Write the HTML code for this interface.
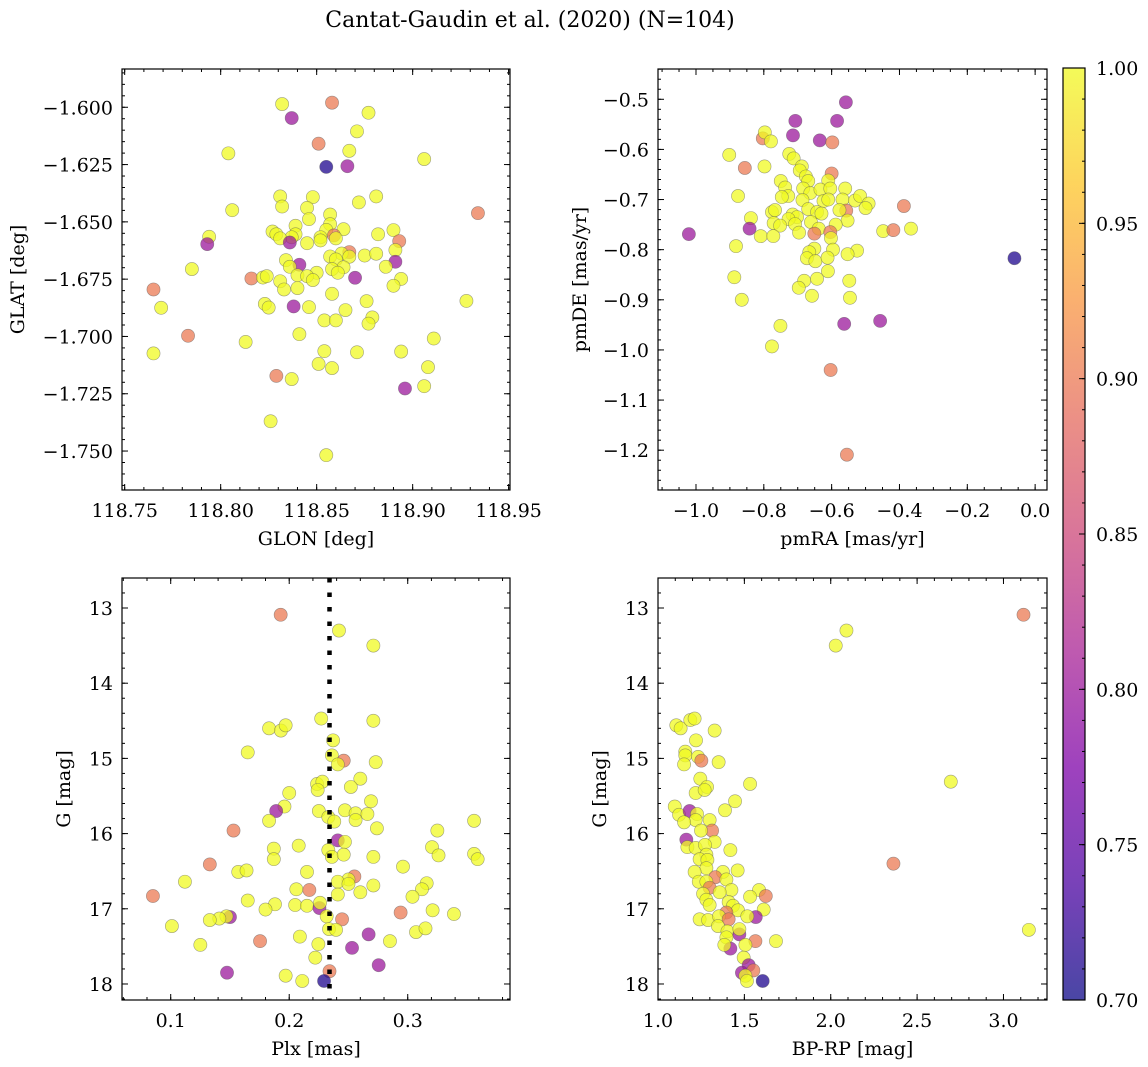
<!DOCTYPE html>
<html><head><meta charset="utf-8">
<style>
html,body{margin:0;padding:0;background:#fff;}
svg{display:block;font-family:"DejaVu Serif","Liberation Serif",serif;}
</style></head>
<body>
<svg id="fig" width="1148" height="1067" viewBox="0 0 1148 1067" xmlns="http://www.w3.org/2000/svg">
<defs>
<linearGradient id="plasmaGrad" x1="0" y1="1" x2="0" y2="0">
<stop offset="0" stop-color="#0d0887"/><stop offset="0.125" stop-color="#4c02a1"/><stop offset="0.25" stop-color="#7e03a8"/><stop offset="0.375" stop-color="#a92395"/><stop offset="0.5" stop-color="#cc4778"/><stop offset="0.625" stop-color="#e56b5d"/><stop offset="0.75" stop-color="#f89540"/><stop offset="0.875" stop-color="#fdc527"/><stop offset="1" stop-color="#f0f921"/>
</linearGradient>
</defs>
<text x="530" y="27" font-size="22" text-anchor="middle">Cantat-Gaudin et al. (2020) (N=104)</text>
</svg>
<script>
// ---------- Panel 1: GLON / GLAT ----------
const p1Glon=[118.832,118.858,118.837,118.877,118.871,118.851,118.867,118.804,118.906,118.855,
118.866,118.831,118.848,118.881,118.832,118.872,118.806,118.845,118.934,118.857,
118.846,118.839,118.857,118.827,118.829,118.839,118.837,118.831,118.864,118.855,
118.852,118.859,118.860,118.882,118.890,118.836,118.845,118.794,118.793,118.852,
118.893,118.891,118.867,118.863,118.857,118.867,118.875,118.881,118.860,118.834,
118.841,118.891,118.836,118.886,118.864,118.858,118.861,118.850,118.785,118.840,
118.845,118.848,118.816,118.822,118.824,118.870,118.894,118.831,118.890,118.840,
118.833,118.765,118.858,118.928,118.876,118.769,118.823,118.825,118.838,118.846,
118.865,118.854,118.860,118.879,118.877,118.841,118.783,118.911,118.813,118.854,
118.871,118.894,118.765,118.851,118.858,118.908,118.829,118.837,118.896,118.906,
118.826,118.855];
const p1Glat=[-1.5986,-1.5980,-1.6047,-1.6024,-1.6105,-1.6159,-1.6190,-1.6201,-1.6226,-1.6260,
-1.6257,-1.6389,-1.6392,-1.6389,-1.6433,-1.6415,-1.6449,-1.6439,-1.6462,-1.6468,
-1.6488,-1.6517,-1.6510,-1.6542,-1.6554,-1.6554,-1.6567,-1.6572,-1.6532,-1.6535,
-1.6567,-1.6559,-1.6572,-1.6554,-1.6536,-1.6590,-1.6593,-1.6565,-1.6597,-1.6581,
-1.6584,-1.6623,-1.6632,-1.6638,-1.6651,-1.6652,-1.6647,-1.6639,-1.6664,-1.6667,
-1.6687,-1.6674,-1.6696,-1.6696,-1.6698,-1.6706,-1.6722,-1.6722,-1.6706,-1.6733,
-1.6737,-1.6754,-1.6747,-1.6743,-1.6737,-1.6744,-1.6749,-1.6759,-1.6779,-1.6789,
-1.6795,-1.6795,-1.6814,-1.6845,-1.6846,-1.6875,-1.6858,-1.6874,-1.6869,-1.6872,
-1.6885,-1.6930,-1.6930,-1.6917,-1.6944,-1.6990,-1.6997,-1.7009,-1.7024,-1.7064,
-1.7069,-1.7066,-1.7074,-1.7120,-1.7138,-1.7134,-1.7172,-1.7186,-1.7227,-1.7217,
-1.7370,-1.7518];
const p1Prob=[1,.9,.8,1,1,.9,1,1,1,.71, .8,1,1,1,1,1,1,1,.9,1, 1,1,1,1,1,1,1,1,1,1, 1,.9,1,1,1,.8,1,1,.8,1,
.9,1,.9,1,1,1,1,1,1,1, .8,.8,1,1,1,1,1,1,1,1, 1,1,.9,1,1,.8,1,1,1,1, 1,.9,1,1,1,1,1,1,.8,1,
1,1,1,1,1,1,.9,1,1,1, 1,1,1,1,1,1,.9,1,.8,1, 1,1];
const p1XTicks=[118.75,118.80,118.85,118.90,118.95];
const p1XTickLabels=["118.75","118.80","118.85","118.90","118.95"];
const p1YTicks=[-1.600,-1.625,-1.650,-1.675,-1.700,-1.725,-1.750];
const p1YTickLabels=["−1.600","−1.625","−1.650","−1.675","−1.700","−1.725","−1.750"];

// ---------- Panel 2: pmRA / pmDE ----------
const p2PmRA=[-0.558,-0.707,-0.584,-0.714,-0.635,-0.598,-0.803,-0.797,-0.779,-0.902,
-0.856,-0.798,-0.725,-0.712,-0.688,-0.694,-0.676,-0.600,-0.750,-0.737,
-0.669,-0.610,-0.684,-0.663,-0.633,-0.604,-0.560,-0.728,-0.747,-0.876,
-0.686,-0.624,-0.610,-0.568,-0.531,-0.516,-0.491,-0.500,-0.387,-0.557,
-0.577,-0.669,-0.643,-0.630,-0.776,-0.767,-0.715,-0.702,-0.727,-0.838,
-0.553,-0.661,-0.771,-0.752,-0.708,-0.588,-0.638,-0.842,-1.021,-0.696,
-0.651,-0.604,-0.809,-0.772,-0.602,-0.448,-0.418,-0.366,-0.882,-0.651,
-0.666,-0.596,-0.525,-0.553,-0.673,-0.648,-0.612,-0.061,-0.887,-0.611,
-0.643,-0.681,-0.697,-0.548,-0.658,-0.865,-0.546,-0.563,-0.457,-0.751,
-0.776,-0.603,-0.555];
const p2PmDE=[-0.506,-0.543,-0.543,-0.572,-0.582,-0.586,-0.578,-0.566,-0.584,-0.611,
-0.637,-0.634,-0.609,-0.618,-0.634,-0.642,-0.654,-0.648,-0.663,-0.676,
-0.663,-0.662,-0.678,-0.687,-0.680,-0.678,-0.678,-0.693,-0.695,-0.693,
-0.701,-0.703,-0.700,-0.700,-0.702,-0.693,-0.708,-0.717,-0.713,-0.722,
-0.721,-0.719,-0.725,-0.728,-0.725,-0.721,-0.730,-0.735,-0.739,-0.737,
-0.742,-0.745,-0.747,-0.752,-0.749,-0.750,-0.758,-0.758,-0.769,-0.766,
-0.768,-0.765,-0.773,-0.773,-0.777,-0.763,-0.761,-0.758,-0.793,-0.798,
-0.805,-0.800,-0.802,-0.809,-0.817,-0.823,-0.816,-0.817,-0.855,-0.843,
-0.858,-0.862,-0.876,-0.862,-0.892,-0.900,-0.896,-0.948,-0.942,-0.952,
-0.993,-1.040,-1.209];
const p2Prob=[.8,.8,.8,.8,.8,.9,.9,1,1,1, .9,1,1,1,1,1,1,.9,1,1, 1,1,1,1,1,1,1,1,1,1, 1,1,1,1,1,1,1,1,.9,.9,
1,1,1,1,1,1,1,1,1,1, 1,1,1,1,1,1,1,.8,.8,1, .9,.9,1,1,1,1,.9,1,1,1, 1,1,1,1,1,1,1,.71,1,1,
1,1,1,1,1,1,1,.8,.8,1, 1,.9,.9];
const p2XTicks=[-1.0,-0.8,-0.6,-0.4,-0.2,0.0];
const p2XTickLabels=["−1.0","−0.8","−0.6","−0.4","−0.2","0.0"];
const p2YTicks=[-0.5,-0.6,-0.7,-0.8,-0.9,-1.0,-1.1,-1.2];
const p2YTickLabels=["−0.5","−0.6","−0.7","−0.8","−0.9","−1.0","−1.1","−1.2"];

// ---------- Panel 3: Plx / G ----------
const p3Plx=[0.1928,0.242,0.271,0.227,0.271,0.183,0.193,0.197,0.165,0.237,
0.236,0.246,0.241,0.273,0.260,0.252,0.2235,0.228,0.224,0.200,
0.269,0.196,0.189,0.225,0.247,0.256,0.266,0.233,0.238,0.256,
0.183,0.153,0.274,0.241,0.247,0.208,0.187,0.187,0.233,0.236,
0.246,0.271,0.325,0.3205,0.326,0.356,0.356,0.359,0.133,0.157,
0.164,0.215,0.296,0.112,0.255,0.250,0.241,0.250,0.271,0.316,
0.312,0.304,0.085,0.206,0.217,0.241,0.260,0.165,0.188,0.180,
0.205,0.215,0.2255,0.226,0.2316,0.294,0.321,0.339,0.2446,0.150,
0.147,0.141,0.133,0.101,0.2336,0.2395,0.267,0.307,0.315,0.209,
0.1754,0.125,0.2246,0.253,0.285,0.222,0.2755,0.1475,0.197,0.211,
0.234,0.2294];
const p3G=[13.09,13.30,13.50,14.47,14.50,14.60,14.63,14.56,14.92,14.76,
14.96,15.03,15.08,15.05,15.27,15.38,15.34,15.31,15.42,15.46,
15.57,15.64,15.70,15.70,15.69,15.73,15.74,15.78,15.84,15.82,
15.83,15.96,15.93,16.09,16.11,16.16,16.20,16.34,16.22,16.31,
16.28,16.31,15.96,16.18,16.29,15.83,16.27,16.34,16.41,16.51,
16.49,16.51,16.44,16.64,16.57,16.61,16.64,16.67,16.69,16.66,
16.74,16.84,16.83,16.74,16.75,16.81,16.78,16.89,16.94,17.01,
16.95,16.96,16.99,16.92,17.10,17.05,17.02,17.07,17.14,17.11,
17.10,17.13,17.15,17.23,17.27,17.28,17.34,17.31,17.26,17.37,
17.43,17.48,17.47,17.52,17.43,17.65,17.75,17.85,17.89,17.96,
17.83,17.96];
const p3Prob=[.9,1,1,1,1,1,1,1,1,1, 1,.9,1,1,1,1,1,1,1,1, 1,1,.8,1,1,1,1,1,1,1, 1,.9,1,.8,1,1,1,1,1,1,
1,1,1,1,1,1,1,1,.9,1, 1,1,1,1,.9,1,1,1,1,1, 1,1,.9,1,.9,1,1,1,1,1, 1,1,.8,1,1,.9,1,1,.9,.8,
1,1,1,1,1,1,.8,1,1,1, .9,1,1,.8,1,1,.8,.8,1,1, .9,.71];
const p3MedianPlx=[0.234];
const p3XTicks=[0.1,0.2,0.3];
const p3XTickLabels=["0.1","0.2","0.3"];
const gTicks=[13,14,15,16,17,18];
const gTickLabels=["13","14","15","16","17","18"];

// ---------- Panel 4: BP-RP / G ----------
const p4BpRp=[3.116,2.091,2.029,1.106,1.131,1.187,1.212,1.328,1.220,1.158,
1.158,1.232,1.251,1.151,1.351,1.533,2.695,1.245,1.284,1.218,
1.270,1.446,1.388,1.097,1.122,1.183,1.226,1.218,1.151,1.299,
1.313,1.249,1.164,1.328,1.170,1.218,1.272,1.419,1.280,1.241,
1.286,2.363,1.280,1.212,1.376,1.461,1.332,1.396,1.236,1.280,
1.299,1.425,1.357,1.261,1.585,1.624,1.533,1.280,1.299,1.409,
1.434,1.463,1.396,1.612,1.241,1.290,1.353,1.409,1.566,1.517,
1.347,1.402,1.471,1.471,3.147,1.396,1.564,1.683,1.419,1.384,
1.506,1.496,1.525,1.486,1.552,1.506,1.515,1.606];
const p4G=[13.09,13.30,13.50,14.56,14.60,14.49,14.47,14.63,14.76,14.91,
14.96,14.98,15.03,15.08,15.05,15.34,15.31,15.27,15.38,15.46,
15.42,15.57,15.69,15.64,15.75,15.70,15.74,15.82,15.85,15.82,
15.96,15.96,16.08,16.11,16.18,16.19,16.15,16.22,16.28,16.34,
16.35,16.40,16.46,16.51,16.51,16.49,16.58,16.61,16.64,16.64,
16.72,16.75,16.78,16.80,16.75,16.83,16.84,16.88,16.95,16.91,
16.96,17.02,17.05,17.01,17.14,17.15,17.10,17.14,17.11,17.10,
17.23,17.30,17.34,17.27,17.28,17.38,17.43,17.43,17.53,17.48,
17.48,17.65,17.75,17.85,17.82,17.89,17.96,17.96];
const p4Prob=[.9,1,1,1,1,1,1,1,1,1, 1,1,.9,1,1,1,1,1,1,1, 1,1,1,1,1,.8,1,1,1,1, .9,1,.8,1,1,1,1,1,1,1,
1,.9,1,1,1,1,.9,1,1,1, .9,1,1,1,1,.9,1,1,1,1, 1,1,.9,1,1,1,1,.9,.8,1, 1,1,.8,1,1,1,.9,1,.8,1,
1,1,.8,.8,.9,1,1,.71];
const p4XTicks=[1.0,1.5,2.0,2.5,3.0];
const p4XTickLabels=["1.0","1.5","2.0","2.5","3.0"];

// ---------- Colorbar ----------
const cbTicks=[0.70,0.75,0.80,0.85,0.90,0.95,1.00];
const cbTickLabels=["0.70","0.75","0.80","0.85","0.90","0.95","1.00"];

const NS="http://www.w3.org/2000/svg";
const svg=document.getElementById('fig');
const VMIN=0.7,VMAX=1.0;
const stops=[[0,13,8,135],[.125,76,2,161],[.25,126,3,168],[.375,169,35,149],[.5,204,71,120],[.625,229,107,93],[.75,248,149,64],[.875,253,197,39],[1,240,249,33]];
function plasma(v){let t=(v-VMIN)/(VMAX-VMIN);t=Math.max(0,Math.min(1,t));
 for(let i=1;i<stops.length;i++){if(t<=stops[i][0]){const a=stops[i-1],b=stops[i];const f=(t-a[0])/(b[0]-a[0]);
 return 'rgb('+[1,2,3].map(k=>Math.round(a[k]+(b[k]-a[k])*f)).join(',')+')';}}
 return 'rgb(240,249,33)';}
function mk(tag,attrs,parent){const e=document.createElementNS(NS,tag);for(const k in attrs)e.setAttribute(k,attrs[k]);(parent||svg).appendChild(e);return e;}
function linScale(d0,d1,r0,r1){return v=>r0+(v-d0)/(d1-d0)*(r1-r0);}
function range(a,b,step){const r=[];for(let v=a;v<=b+1e-9;v+=step)r.push(+v.toFixed(6));return r;}
const TF=19;

function drawPanel(P){
 const g=mk('g',{});
 
 
 const sx=linScale(P.xd[0],P.xd[1],P.L,P.R), sy=linScale(P.yd[0],P.yd[1],P.T,P.B);
 const pts=mk('g',{},g);
 
 
 for(let i=0;i<P.xs.length;i++){
  const c=mk('circle',{cx:sx(P.xs[i]).toFixed(2),cy:sy(P.ys[i]).toFixed(2),r:6.6,fill:plasma(P.cs[i]),'fill-opacity':0.75,stroke:'#555','stroke-opacity':0.55,'stroke-width':0.6},pts);
  
  
 }
 if(P.vline){for(const v of P.vline){const l=mk('line',{x1:sx(v),x2:sx(v),y1:P.T,y2:P.B,stroke:'#000','stroke-width':4.5,'stroke-dasharray':'4.5 10'},g);
  
  }}
 const fr=mk('rect',{x:P.L,y:P.T,width:P.R-P.L,height:P.B-P.T,fill:'none',stroke:'#000','stroke-width':1.2},g);
 
 
 const tk=mk('g',{stroke:'#000','stroke-width':1},g);
 
 
 const lo=Math.min(P.xd[0],P.xd[1]),hi=Math.max(P.xd[0],P.xd[1]);
 for(const v of range(Math.ceil(lo/P.xminor)*P.xminor,hi,P.xminor)){const x=sx(v);
  mk('line',{x1:x,x2:x,y1:P.B,y2:P.B-3},tk);mk('line',{x1:x,x2:x,y1:P.T,y2:P.T+3},tk);}
 const ylo=Math.min(P.yd[0],P.yd[1]),yhi=Math.max(P.yd[0],P.yd[1]);
 for(const v of range(Math.ceil(ylo/P.yminor)*P.yminor,yhi,P.yminor)){const y=sy(v);
  mk('line',{x1:P.L,x2:P.L+3,y1:y,y2:y},tk);mk('line',{x1:P.R,x2:P.R-3,y1:y,y2:y},tk);}
 P.xt.forEach((v,i)=>{const x=sx(v);
  mk('line',{x1:x,x2:x,y1:P.B,y2:P.B-6},tk);mk('line',{x1:x,x2:x,y1:P.T,y2:P.T+6},tk);
  const t=mk('text',{x:x,y:P.B+27,'font-size':TF,'text-anchor':'middle'},g);t.textContent=P.xl[i];
  
  });
 P.yt.forEach((v,i)=>{const y=sy(v);
  mk('line',{x1:P.L,x2:P.L+6,y1:y,y2:y},tk);mk('line',{x1:P.R,x2:P.R-6,y1:y,y2:y},tk);
  const t=mk('text',{x:P.L-9,y:y+7,'font-size':TF,'text-anchor':'end'},g);t.textContent=P.yl[i];
  
  });
 const xt=mk('text',{x:(P.L+P.R)/2,y:P.B+55,'font-size':TF,'text-anchor':'middle'},g);xt.textContent=P.xlabel;
 
 
 const yc=(P.T+P.B)/2;
 const yt=mk('text',{x:P.ylx,y:yc,'font-size':TF,'text-anchor':'middle',transform:'rotate(-90 '+P.ylx+' '+yc+')'},g);yt.textContent=P.ylabel;
 
 
}

drawPanel({name:'glon-glat-panel',L:122,R:510,T:69,B:490,xd:[118.7486,118.9507],yd:[-1.5833,-1.767],xs:p1Glon,ys:p1Glat,cs:p1Prob,
 xt:p1XTicks,xl:p1XTickLabels,yt:p1YTicks,yl:p1YTickLabels,xminor:0.01,yminor:0.005,xlabel:'GLON [deg]',ylabel:'GLAT [deg]',ylx:24});
drawPanel({name:'proper-motion-panel',L:658,R:1047,T:69,B:490,xd:[-1.112,0.035],yd:[-0.4396,-1.2794],xs:p2PmRA,ys:p2PmDE,cs:p2Prob,
 xt:p2XTicks,xl:p2XTickLabels,yt:p2YTicks,yl:p2YTickLabels,xminor:0.05,yminor:0.02,xlabel:'pmRA [mas/yr]',ylabel:'pmDE [mas/yr]',ylx:586});
drawPanel({name:'parallax-panel',L:122,R:510,T:578,B:1000,xd:[0.0589,0.3863],yd:[12.601,18.213],xs:p3Plx,ys:p3G,cs:p3Prob,vline:p3MedianPlx,
 xt:p3XTicks,xl:p3XTickLabels,yt:gTicks,yl:gTickLabels,xminor:0.02,yminor:0.2,xlabel:'Plx [mas]',ylabel:'G [mag]',ylx:70});
drawPanel({name:'cmd-panel',L:658,R:1047,T:578,B:1000,xd:[1.0,3.252],yd:[12.601,18.213],xs:p4BpRp,ys:p4G,cs:p4Prob,
 xt:p4XTicks,xl:p4XTickLabels,yt:gTicks,yl:gTickLabels,xminor:0.1,yminor:0.2,xlabel:'BP-RP [mag]',ylabel:'G [mag]',ylx:606});

// colorbar
(function(){
 const L=1063,R=1085,T=68,B=1000;const sy=linScale(VMIN,VMAX,B,T);
 const g=mk('g',{});
 
 
 mk('rect',{x:L,y:T,width:R-L,height:B-T,fill:'url(#plasmaGrad)','fill-opacity':0.75},g);
 mk('rect',{x:L,y:T,width:R-L,height:B-T,fill:'none',stroke:'#000','stroke-width':1.2},g);
 for(const v of range(0.70,1.0,0.01)){const y=sy(v);mk('line',{x1:R,x2:R-3,y1:y,y2:y,stroke:'#000'},g);}
 cbTicks.forEach((v,i)=>{const y=sy(v);mk('line',{x1:R,x2:R-6,y1:y,y2:y,stroke:'#000'},g);
  const t=mk('text',{x:R+11,y:y+7,'font-size':TF},g);t.textContent=cbTickLabels[i];
  
  });
})();
</script>
</body></html>
